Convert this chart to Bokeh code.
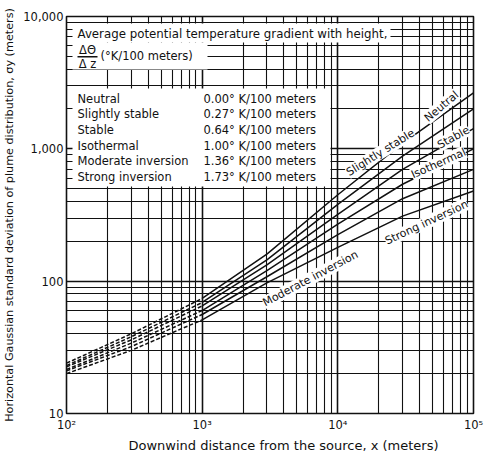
import math
from bokeh.plotting import figure
from bokeh.models import Label, BoxAnnotation, FixedTicker, NumeralTickFormatter, Title
from bokeh.embed import file_html
from bokeh.resources import INLINE

# ---- data ----
distance = [100, 300, 1000, 3000, 10000, 30000, 100000]
neutral = [24, 40, 74, 160, 450, 1100, 2650]
slightly_stable = [23, 38, 69, 145, 380, 880, 2000]
stable = [22.5, 36, 65, 133, 320, 700, 1420]
isothermal = [21.5, 34, 60, 120, 270, 540, 1000]
moderate_inversion = [21, 32, 56, 108, 225, 420, 700]
strong_inversion = [20, 30, 51, 97, 180, 310, 480]

class_names = ["Neutral", "Slightly stable", "Stable", "Isothermal",
               "Moderate inversion", "Strong inversion"]
gradients = [0.00, 0.27, 0.64, 1.00, 1.36, 1.73]
series = [neutral, slightly_stable, stable, isothermal, moderate_inversion, strong_inversion]

x_ticks = [100, 1000, 10000, 100000]
x_tick_labels = ["10\u00b2", "10\u00b3", "10\u2074", "10\u2075"]
y_ticks = [10, 100, 1000, 10000]

FONT = "DejaVu Sans"
INK = "#111111"

p = figure(width=485, height=455, x_axis_type="log", y_axis_type="log",
           x_range=(100, 100000), y_range=(10, 10000),
           output_backend="svg", toolbar_location=None,
           min_border_left=66, min_border_right=12, min_border_top=16, min_border_bottom=42)
p.background_fill_color = "white"
p.border_fill_color = "white"
p.outline_line_color = INK
p.outline_line_width = 1.6

minor_x = [m * 10 ** e for e in range(2, 5) for m in range(2, 10)]
minor_y = [m * 10 ** e for e in range(1, 4) for m in range(2, 10)]
p.xaxis.ticker = FixedTicker(ticks=x_ticks, minor_ticks=minor_x)
p.yaxis.ticker = FixedTicker(ticks=y_ticks, minor_ticks=minor_y)
p.xaxis.major_label_overrides = {t: s for t, s in zip(x_ticks, x_tick_labels)}
p.yaxis.formatter = NumeralTickFormatter(format="0,0")

for g in (p.xgrid, p.ygrid):
    g.grid_line_color = INK
    g.grid_line_width = 1.6
    g.grid_line_alpha = 1
    g.minor_grid_line_color = INK
    g.minor_grid_line_width = 1.1

for ax in (p.xaxis, p.yaxis):
    ax.axis_line_color = None
    ax.major_tick_line_color = None
    ax.minor_tick_line_color = None
    ax.major_tick_out = 0
    ax.major_tick_in = 0
    ax.minor_tick_out = 0
    ax.minor_tick_in = 0
    ax.major_label_text_font = FONT
    ax.major_label_text_font_size = "11.5px"
    ax.major_label_text_color = INK
    ax.axis_label_text_font = FONT
    ax.axis_label_text_font_style = "normal"
    ax.axis_label_text_color = INK
p.yaxis.major_label_standoff = 3
p.xaxis.major_label_standoff = 4

p.yaxis.axis_label = "Horizontal Gaussian standard deviation of plume distribution, \u03c3y (meters)"
p.yaxis.axis_label_text_font_size = "11.2px"
p.yaxis.axis_label_standoff = 4

p.add_layout(Title(text="Downwind distance from the source, x (meters)", align="left", offset=62,
                   text_font=FONT, text_font_size="13px", text_font_style="normal",
                   text_color=INK, standoff=2), "below")

# curves: dashed up to 1000 m, solid beyond
split = distance.index(1000)
for vals in series:
    p.line(distance[:split + 1], vals[:split + 1], line_color=INK, line_width=1.5, line_dash="4 2")
    p.line(distance[split:], vals[split:], line_color=INK, line_width=1.5)

# helpers to place annotations at reference pixel spots (page coordinates)
def px_x(px):
    return 10 ** (2 + 3 * (px - 66) / 407)

def px_y(py):
    return 10 ** (1 + 3 * (413 - py) / 397)

def white_box(x0, x1, y0, y1, color="white"):
    p.add_layout(BoxAnnotation(left=px_x(x0), right=px_x(x1), top=px_y(y0), bottom=px_y(y1),
                               fill_color=color, fill_alpha=1, line_color=None))

def text(px, py, s, align="left", angle=0.0, size="11px", bg=None):
    lab = Label(x=px_x(px), y=px_y(py), text=s, text_align=align, text_baseline="middle",
                text_font=FONT, text_font_size=size, text_color=INK, angle=angle)
    if bg:
        lab.background_fill_color = bg
        lab.background_fill_alpha = 1
    p.add_layout(lab)

# key boxes
white_box(72, 390, 23, 42)
white_box(72, 207, 42, 69)
white_box(72, 330, 88, 186)

text(77, 33, "Average potential temperature gradient with height,", size="11.8px")
text(87, 49, "\u0394\u0398", align="center", size="11.5px")
white_box(77, 97, 55.5, 57, color=INK)
text(87, 63, "\u0394 z", align="center", size="11.5px")
text(100, 55, "(\u00b0K/100 meters)", size="11.5px")

row_y = [98, 113.5, 129, 145, 160.5, 176]
for name, gval, ry in zip(class_names, gradients, row_y):
    text(77, ry, name, size="11.5px")
    text(203, ry, f"{gval:.2f}\u00b0 K/100 meters", size="11.5px")

# curve labels
for s, cx, cy, deg in [("Slightly stable", 380, 152, 32),
                       ("Neutral", 441, 106, 40),
                       ("Stable", 453, 137, 29),
                       ("Isothermal", 438, 163, 24),
                       ("Strong inversion", 426, 222, 25),
                       ("Moderate inversion", 310, 278, 28)]:
    text(cx, cy, s, align="center", angle=math.radians(deg), bg="white")

open("out.html", "w").write(file_html(p, INLINE))
